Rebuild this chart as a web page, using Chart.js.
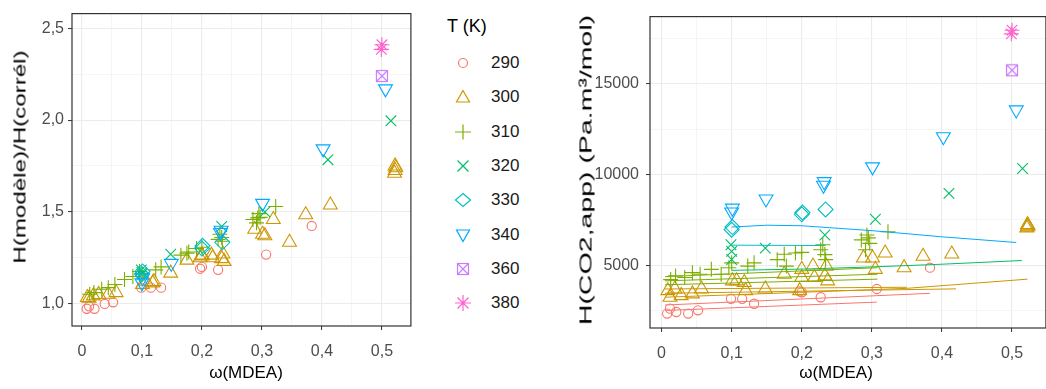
<!DOCTYPE html>
<html>
<head>
<meta charset="utf-8">
<script src="https://cdn.jsdelivr.net/npm/chart.js@4.4.1/dist/chart.umd.min.js"></script>
<style>
  html, body { margin: 0; padding: 0; background: #fff; width: 1046px; height: 389px; overflow: hidden;
    font-family: 'Liberation Sans', Arial, sans-serif; }
  canvas { position: absolute; top: 0; }
  #left-chart { left: 0; }
  #right-chart { left: 575px; }
  .axis-title { position: absolute; white-space: nowrap; color: #000; font-size: 17px; line-height: 1; }
  .legend-title { position: absolute; left: 447px; top: 16px; font-size: 18px; color: #000; }
  .legend-item { position: absolute; left: 453px; height: 20px; display: flex; align-items: center; }
  .legend-item span { margin-left: 18px; font-size: 17px; color: #1a1a1a; }
  .legend-item svg { display: block; }
</style>
</head>
<body>
<canvas id="left-chart" width="420" height="389"></canvas>
<canvas id="right-chart" width="480" height="389"></canvas>

<div class="axis-title" id="left-ytitle">H(modèle)/H(corrél)</div>
<div class="axis-title" id="right-ytitle">H(CO2,app) (Pa.m³/mol)</div>
<div class="axis-title" id="left-xtitle">ω(MDEA)</div>
<div class="axis-title" id="right-xtitle">ω(MDEA)</div>

<div class="legend-title">T (K)</div>
<div id="legend"></div>

<script>
const TEMPS = [290, 300, 310, 320, 330, 340, 360, 380];
const COLORS = ['#F8766D', '#CD9600', '#7CAE00', '#00BE67', '#00BFC4', '#00A9FF', '#C77CFF', '#FF61CC'];
const SHAPES = ['circle', 'triangle', 'cross', 'crossRot', 'rectRot', 'triangleDown', 'rectCross', 'star'];

/* ── data: ω(MDEA), H(modèle)/H(corrél), H(CO2,app) ───── */
const w290 = [0.008, 0.012, 0.021, 0.038, 0.052, 0.099, 0.115, 0.132, 0.197, 0.2, 0.227, 0.307, 0.383];
const r290 = [0.972, 0.985, 0.972, 0.998, 1.007, 1.087, 1.087, 1.087, 1.19, 1.2, 1.184, 1.267, 1.423];
const h290 = [2330, 2600, 2415, 2330, 2510, 3142, 3140, 2870, 3550, 3500, 3229, 3684, 4856];

const w300 = [0.009, 0.012, 0.019, 0.028, 0.044, 0.057, 0.101, 0.107, 0.118, 0.12, 0.148, 0.175, 0.197, 0.2, 0.2,
  0.216, 0.218, 0.233, 0.235, 0.237, 0.288, 0.301, 0.305, 0.319, 0.346, 0.373, 0.414, 0.521, 0.522, 0.523, 0.522];
const r300 = [1.033, 1.03, 1.042, 1.05, 1.051, 1.06, 1.105, 1.122, 1.113, 1.12, 1.166, 1.237, 1.25, 1.264, 1.26,
  1.264, 1.25, 1.245, 1.27, 1.23, 1.405, 1.378, 1.37, 1.458, 1.334, 1.484, 1.537, 1.71, 1.725, 1.74, 1.75];
const h300 = [3592, 3230, 3684, 3320, 3413, 3684, 4133, 4133, 4041, 3592, 3684, 4496, 3592, 4313, 4767,
  4946, 4313, 4404, 4946, 4133, 5396, 5396, 4767, 5666, 4856, 5488, 5612, 7050, 7110, 7170, 7230];

const w310 = [0.013, 0.02, 0.033, 0.044, 0.055, 0.071, 0.085, 0.096, 0.1, 0.123, 0.132, 0.165, 0.178, 0.175, 0.191,
  0.2, 0.227, 0.23, 0.233, 0.234, 0.285, 0.291, 0.293, 0.295, 0.297, 0.323];
const r310 = [1.051, 1.06, 1.078, 1.087, 1.104, 1.131, 1.148, 1.175, 1.165, 1.184, 1.2, 1.264, 1.281, 1.275, 1.3,
  1.307, 1.35, 1.378, 1.36, 1.34, 1.458, 1.44, 1.467, 1.49, 1.47, 1.529];
const h310 = [4200, 4404, 4313, 4585, 4500, 4766, 4500, 4856, 5125, 4946, 5125, 5300, 4946, 5600, 5666,
  5700, 5850, 6121, 5580, 5300, 6390, 5850, 6663, 6500, 6200, 6842];

const w320 = [0.099, 0.1, 0.1, 0.148, 0.233, 0.305, 0.41, 0.515];
const r320 = [1.184, 1.17, 1.16, 1.269, 1.42, 1.5, 1.784, 1.996];
const h320 = [6121, 5758, 5309, 5937, 6660, 7527, 8953, 10325];

const w330 = [0.1, 0.101, 0.2, 0.201, 0.234];
const r330 = [1.16, 1.175, 1.3, 1.315, 1.334];
const h330 = [6950, 7100, 7800, 7900, 8069];

const w340 = [0.1, 0.101, 0.149, 0.231, 0.232, 0.301, 0.402, 0.506];
const r340 = [1.113, 1.14, 1.219, 1.387, 1.40, 1.546, 1.843, 2.17];
const h340 = [7924, 8140, 8646, 9400, 9600, 10415, 12076, 13556];

const w360 = [0.5];
const r360 = [2.24];
const h360 = [15740];

const w380 = [0.499, 0.5];
const r380 = [2.385, 2.41];
const h380 = [17750, 17950];

const W = [w290, w300, w310, w320, w330, w340, w360, w380];
const R = [r290, r300, r310, r320, r330, r340, r360, r380];
const H = [h290, h300, h310, h320, h330, h340, h360, h380];

/* model curves on the right panel */
const fitT = [290, 290, 300, 300, 300, 310, 310, 310, 320, 330, 340];
const fitW = [
  [0.005, 0.307],
  [0.005, 0.383],
  [0.005, 0.2, 0.35, 0.522],
  [0.005, 0.42],
  [0.005, 0.35],
  [0.005, 0.308],
  [0.005, 0.308],
  [0.005, 0.308],
  [0.1, 0.2, 0.3, 0.4, 0.514],
  [0.1, 0.234],
  [0.1, 0.15, 0.2, 0.3, 0.4, 0.506],
];
const fitH = [
  [2500, 2960],
  [2800, 3445],
  [3230, 3500, 3720, 4225],
  [3446, 3690],
  [3684, 3780],
  [3917, 4225],
  [4133, 4496],
  [4366, 4856],
  [4713, 4780, 4900, 5050, 5253],
  [6100, 6080],
  [7100, 7200, 7170, 6900, 6560, 6246],
];

/* axis ticks */
const xMajor = [0, 0.1, 0.2, 0.3, 0.4, 0.5];
const xMinor = [0.05, 0.15, 0.25, 0.35, 0.45];
const leftYMajor = [1.0, 1.5, 2.0, 2.5];
const leftYMinor = [1.25, 1.75, 2.25];
const rightYMajor = [5000, 10000, 15000];
const rightYMinor = [2500, 7500, 12500, 17500];

const FONT = "'Liberation Sans', Arial, sans-serif";

function rectCrossImage(color) {
    const c = document.createElement('canvas');
    c.width = 14; c.height = 14;
    const g = c.getContext('2d');
    g.strokeStyle = color; g.lineWidth = 1.2;
    g.strokeRect(1.5, 1.5, 11, 11);
    g.beginPath();
    g.moveTo(1.5, 1.5); g.lineTo(12.5, 12.5);
    g.moveTo(12.5, 1.5); g.lineTo(1.5, 12.5);
    g.stroke();
    return c;
}

function pointOpts(shape, color) {
    const o = {
        showLine: false,
        backgroundColor: 'rgba(0,0,0,0)',
        borderColor: color,
        pointBackgroundColor: 'rgba(0,0,0,0)',
        pointBorderColor: color,
        pointBorderWidth: 1.1,
        pointRadius: 7.5,
        pointStyle: shape,
        pointRotation: 0,
    };
    if (shape === 'circle') o.pointRadius = 4.6;
    if (shape === 'triangle') o.pointRadius = 8;
    if (shape === 'triangleDown') { o.pointStyle = 'triangle'; o.pointRotation = 180; o.pointRadius = 8; }
    if (shape === 'rectCross') { o.pointStyle = rectCrossImage(color); }
    return o;
}

function makeScale(min, max, major, minor, fmt, fitSize, isX, pad) {
    const isMajor = c => c.tick && major.includes(c.tick.value);
    return {
        type: 'linear', min, max,
        afterBuildTicks: s => {
            s.ticks = [...major, ...minor].filter(v => v >= min && v <= max)
                .sort((a, b) => a - b).map(v => ({ value: v }));
        },
        ticks: {
            autoSkip: false, maxRotation: 0, padding: pad, color: '#4D4D4D',
            font: { family: FONT, size: 16 },
            callback: v => major.includes(v) ? fmt(v) : '',
        },
        grid: {
            color: c => isMajor(c) ? '#EBEBEB' : '#F3F3F3',
            lineWidth: c => isMajor(c) ? 1.1 : 0.8,
            tickLength: 4,
            tickColor: c => isMajor(c) ? '#333333' : 'rgba(0,0,0,0)',
            tickWidth: 1,
        },
        border: { display: false },
        afterFit: s => { if (isX) s.height = fitSize; else s.width = fitSize; },
    };
}

const panelBorder = {
    id: 'panelBorder',
    afterDraw(chart) {
        const { ctx, chartArea: a } = chart;
        ctx.save();
        ctx.strokeStyle = '#333333';
        ctx.lineWidth = 1.2;
        ctx.strokeRect(a.left, a.top, a.right - a.left, a.bottom - a.top);
        ctx.restore();
    }
};

const fmtX = v => v === 0 ? '0' : v.toFixed(1).replace('.', ',');
const fmtLeftY = v => v.toFixed(1).replace('.', ',');
const fmtRightY = v => String(v);

function pointDatasets(values) {
    return TEMPS.map((t, i) => ({
        label: String(t),
        data: W[i].map((w, j) => ({ x: w, y: values[i][j] })),
        order: 10 - i,
        ...pointOpts(SHAPES[i], COLORS[i]),
    }));
}

function fitDatasets() {
    return fitT.map((t, k) => ({
        label: 'fit ' + t,
        data: fitW[k].map((w, j) => ({ x: w, y: fitH[k][j] })),
        showLine: true,
        borderColor: COLORS[TEMPS.indexOf(t)],
        borderWidth: 1,
        pointRadius: 0,
        fill: false,
        order: 0,
    }));
}

function baseOptions(padding, xScale, yScale) {
    return {
        responsive: false, animation: false, events: [],
        layout: { padding },
        plugins: { legend: { display: false }, tooltip: { enabled: false } },
        scales: { x: xScale, y: yScale },
    };
}

new Chart(document.getElementById('left-chart'), {
    type: 'scatter',
    data: { datasets: pointDatasets(R) },
    options: baseOptions(
        { top: 5, right: 6, bottom: 0, left: 0 },
        makeScale(-0.0165, 0.5483, xMajor, xMinor, fmtX, 63, true, 12),
        makeScale(0.878, 2.58, leftYMajor, leftYMinor, fmtLeftY, 72, false, 4)
    ),
    plugins: [panelBorder],
});

new Chart(document.getElementById('right-chart'), {
    type: 'scatter',
    data: { datasets: [...pointDatasets(H), ...fitDatasets()] },
    options: baseOptions(
        { top: 11, right: 5, bottom: 0, left: 0 },
        makeScale(-0.0165, 0.5483, xMajor, xMinor, fmtX, 61, true, 12),
        makeScale(1533, 18700, rightYMajor, rightYMinor, fmtRightY, 75, false, 7)
    ),
    plugins: [panelBorder],
});

/* ── axis titles ───────────────────────────────────────── */
function placeTitle(id, cx, cy, rotate, length) {
    const el = document.getElementById(id);
    const k = length ? length / el.offsetWidth : 1;
    el.style.left = cx + 'px';
    el.style.top = cy + 'px';
    el.style.transform = `translate(-50%, -50%) ${rotate ? 'rotate(-90deg)' : ''} scaleX(${k})`;
}
placeTitle('left-ytitle', 20, 157, true, 213);
placeTitle('right-ytitle', 586, 170, true, 310);
placeTitle('left-xtitle', 246, 372, false, 0);
placeTitle('right-xtitle', 836, 372, false, 0);

/* ── legend ────────────────────────────────────────────── */
function symbolSvg(shape, color) {
    const s = `fill="none" stroke="${color}" stroke-width="1.2"`;
    let body = '';
    switch (shape) {
        case 'circle': body = `<circle cx="10" cy="10" r="4.5" ${s}/>`; break;
        case 'triangle': body = `<polygon points="10,3.5 16.5,15 3.5,15" ${s}/>`; break;
        case 'cross': body = `<path d="M2 10H18M10 2.5V17.5" ${s}/>`; break;
        case 'crossRot': body = `<path d="M4.5 4.5L15.5 15.5M15.5 4.5L4.5 15.5" ${s}/>`; break;
        case 'rectRot': body = `<polygon points="10,3.5 17.5,10 10,16.5 2.5,10" ${s}/>`; break;
        case 'triangleDown': body = `<polygon points="3.5,5 16.5,5 10,16.5" ${s}/>`; break;
        case 'rectCross': body = `<rect x="4.5" y="4.5" width="11" height="11" ${s}/><path d="M4.5 4.5L15.5 15.5M15.5 4.5L4.5 15.5" ${s}/>`; break;
        case 'star': body = `<path d="M2 10H18M10 2V18M4.5 4.5L15.5 15.5M15.5 4.5L4.5 15.5" ${s}/>`; break;
    }
    return `<svg width="20" height="20" viewBox="0 0 20 20">${body}</svg>`;
}

document.getElementById('legend').innerHTML = TEMPS.map((t, i) =>
    `<div class="legend-item" style="top:${Math.round(53 + i * 34.3)}px">
        ${symbolSvg(SHAPES[i], COLORS[i])}<span>${t}</span>
    </div>`
).join('');
</script>
</body>
</html>
